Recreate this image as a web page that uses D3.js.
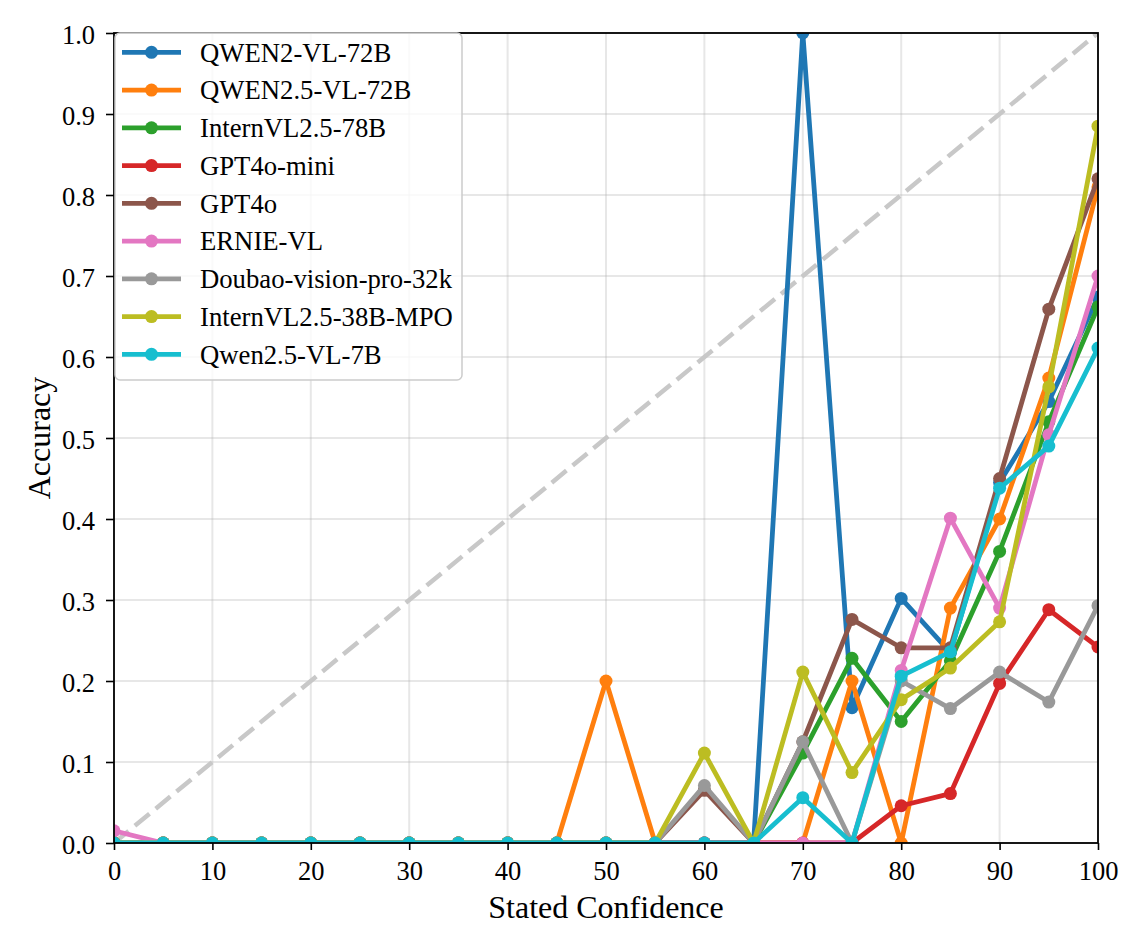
<!DOCTYPE html>
<html><head><meta charset="utf-8">
<script src="https://cdn.jsdelivr.net/npm/d3@7"></script>
<style>body{margin:0;background:#fff}svg{display:block}</style>
</head><body>
<svg id="chart" width="1138" height="948"></svg>
<script>
const confidence = [0,5,10,15,20,25,30,35,40,45,50,55,60,65,70,75,80,85,90,95,100];
const seriesNames = ["QWEN2-VL-72B","QWEN2.5-VL-72B","InternVL2.5-78B","GPT4o-mini","GPT4o","ERNIE-VL","Doubao-vision-pro-32k","InternVL2.5-38B-MPO","Qwen2.5-VL-7B"];
const seriesColors = ["#1f77b4","#ff7f0e","#2ca02c","#d62728","#8c564b","#e377c2","#999999","#bcbd22","#17becf"];
const qwen2vl72 =   [0,0,0,0,0,0,0,0,0,0,0,0,0,0,1.0,0.167,0.302,0.235,0.445,0.545,0.674];
const qwen25vl72 =  [0,0,0,0,0,0,0,0,0,0,0.2,0,0,0,0,0.2,0,0.29,0.40,0.574,0.81];
const internvl78 =  [0,0,0,0,0,0,0,0,0,0,0,0,0,0,0.111,0.228,0.15,0.225,0.36,0.52,0.662];
const gpt4omini =   [0,0,0,0,0,0,0,0,0,0,0,0,0,0,0,0,0.046,0.061,0.197,0.288,0.242];
const gpt4o =       [0,0,0,0,0,0,0,0,0,0,0,0,0.065,0,0.125,0.276,0.241,0.241,0.45,0.659,0.82];
const ernievl =     [0.015,0,0,0,0,0,0,0,0,0,0,0,0,0,0,0,0.213,0.401,0.29,0.504,0.70];
const doubao =      [0,0,0,0,0,0,0,0,0,0,0,0,0.071,0,0.125,0,0.2,0.166,0.211,0.174,0.293];
const internvl38 =  [0,0,0,0,0,0,0,0,0,0,0,0,0.111,0,0.211,0.087,0.177,0.216,0.273,0.563,0.885];
const qwen25vl7 =   [0,0,0,0,0,0,0,0,0,0,0,0,0,0,0.056,0,0.206,0.236,0.438,0.49,0.611];
const seriesValues = [qwen2vl72,qwen25vl72,internvl78,gpt4omini,gpt4o,ernievl,doubao,internvl38,qwen25vl7];
const xTicks = [0,10,20,30,40,50,60,70,80,90,100];
const yTicks = [0,0.1,0.2,0.3,0.4,0.5,0.6,0.7,0.8,0.9,1.0];
const diagonal = [[0,0],[100,1]];

const svg = d3.select("#chart");
const L = 114, R = 1098, T = 33, B = 843;
const x = d3.scaleLinear().domain([0,100]).range([L,R]);
const y = d3.scaleLinear().domain([0,1]).range([B,T]);
const font = "'Liberation Serif','Times New Roman',Times,serif";

svg.append("defs").append("clipPath").attr("id","clip")
  .append("rect").attr("x",L).attr("y",T).attr("width",R-L).attr("height",B-T);

// grid
const grid = svg.append("g");
grid.selectAll("line.gx").data(xTicks).join("line")
  .attr("x1",d=>x(d)).attr("x2",d=>x(d)).attr("y1",T).attr("y2",B)
  .attr("stroke","#b0b0b0").attr("stroke-opacity",0.3).attr("stroke-width",2);
grid.selectAll("line.gy").data(yTicks).join("line")
  .attr("y1",d=>y(d)).attr("y2",d=>y(d)).attr("x1",L).attr("x2",R)
  .attr("stroke","#b0b0b0").attr("stroke-opacity",0.3).attr("stroke-width",2);

const plot = svg.append("g").attr("clip-path","url(#clip)");
const lineGen = d3.line().x(d=>x(d[0])).y(d=>y(d[1]));
plot.append("path").attr("d",lineGen(diagonal))
  .attr("fill","none").attr("stroke","#c8c8c8").attr("stroke-width",4.5)
  .attr("stroke-dasharray","19,8");

seriesValues.forEach((vals,i)=>{
  const pts = confidence.map((c,j)=>[c,vals[j]]);
  const g = plot.append("g");
  g.append("path").attr("d",lineGen(pts)).attr("fill","none")
    .attr("stroke",seriesColors[i]).attr("stroke-width",4.8)
    .attr("stroke-linejoin","round").attr("stroke-linecap","butt");
  g.selectAll("circle").data(pts).join("circle")
    .attr("cx",d=>x(d[0])).attr("cy",d=>y(d[1])).attr("r",6.5)
    .attr("fill",seriesColors[i]);
});

// axes
const xAxis = d3.axisBottom(x).tickValues(xTicks).tickSize(7).tickPadding(11).tickFormat(d3.format("d"));
const yAxis = d3.axisLeft(y).tickValues(yTicks).tickSize(8).tickPadding(11).tickFormat(d3.format(".1f"));
const gx = svg.append("g").attr("transform",`translate(0,${B})`).call(xAxis);
const gy = svg.append("g").attr("transform",`translate(${L},0)`).call(yAxis);
[gx,gy].forEach(g=>{
  g.select(".domain").remove();
  g.selectAll(".tick line").attr("stroke","#000").attr("stroke-width",1.6);
  g.selectAll(".tick text").attr("fill","#000").style("font-family",font).style("font-size","26.5px");
});
gy.selectAll(".tick text").attr("dy","0.38em");
svg.append("rect").attr("x",L).attr("y",T).attr("width",R-L).attr("height",B-T)
  .attr("fill","none").attr("stroke","#000").attr("stroke-width",1.8);

svg.append("text").attr("x",(L+R)/2).attr("y",918).attr("text-anchor","middle")
  .style("font-family",font).style("font-size","32px").text("Stated Confidence");
svg.append("text").attr("transform",`translate(50,${(T+B)/2}) rotate(-90)`).attr("text-anchor","middle")
  .style("font-family",font).style("font-size","32px").text("Accuracy");

// legend
const lg = svg.append("g");
lg.append("rect").attr("x",115).attr("y",33).attr("width",347).attr("height",347).attr("rx",5)
  .attr("fill","#fff").attr("fill-opacity",0.8).attr("stroke","#cccccc").attr("stroke-width",1.5);
seriesNames.forEach((n,i)=>{
  const yy = 52.3 + i*37.75;
  lg.append("line").attr("x1",122).attr("x2",181).attr("y1",yy).attr("y2",yy)
    .attr("stroke",seriesColors[i]).attr("stroke-width",4.8);
  lg.append("circle").attr("cx",151.5).attr("cy",yy).attr("r",6.5).attr("fill",seriesColors[i]);
  lg.append("text").attr("x",200).attr("y",yy).attr("dy","0.35em")
    .style("font-family",font).style("font-size","26.7px").text(n);
});
</script>
</body></html>
